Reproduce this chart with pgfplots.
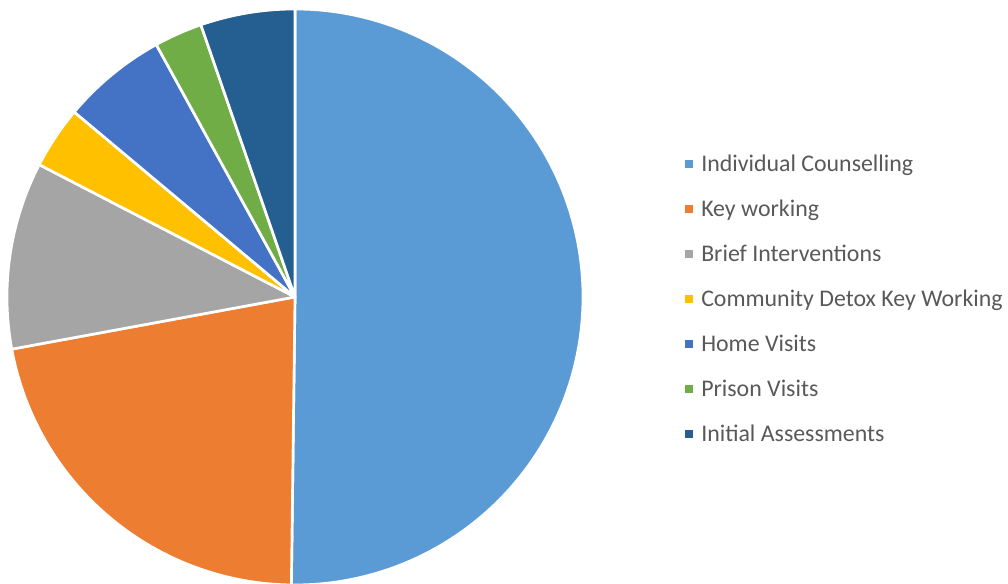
\documentclass[border=0pt]{standalone}
\usepackage{pgfplots}
\pgfplotsset{compat=1.18}
\usepackage{fontspec}
\setmainfont{Carlito}
\definecolor{c1}{HTML}{5B9BD5}
\definecolor{c2}{HTML}{ED7D31}
\definecolor{c3}{HTML}{A5A5A5}
\definecolor{c4}{HTML}{FFC000}
\definecolor{c5}{HTML}{4472C4}
\definecolor{c6}{HTML}{70AD47}
\definecolor{c7}{HTML}{255E91}
\definecolor{txt}{HTML}{595959}
% start (cumulative %), share (%), colour, name
\newcommand\slice[4]{%
  \addplot[fill=#3, draw=white, line width=2pt, line join=round,
    domain=90-3.6*(#1+#2):90-3.6*#1, samples=120]
    ({295+288*cos(x)},{287+288*sin(x)}) -- (axis cs:295,287) -- cycle;
  \addlegendentry{#4}%
}
\begin{document}
\begin{tikzpicture}
\useasboundingbox (0,0) rectangle (756pt,438pt);
\begin{axis}[
  scale only axis, width=756pt, height=438pt,
  xmin=0, xmax=1008, ymin=0, ymax=584,
  hide axis, clip=false,
  legend cell align=left,
  legend image code/.code={\fill[#1, draw=none] (0pt,-3pt) rectangle (6pt,3pt); \path (9pt,0pt);},
  legend style={at={(685/1008,285/584)}, anchor=west, draw=none, fill=none,
    inner sep=0pt, row sep=15.9pt, text=txt,
    font=\fontsize{17.9}{21}\selectfont},
]
\slice{0}{50.2}{c1}{Individual Counselling}
\slice{50.2}{21.9}{c2}{Key working}
\slice{72.1}{10.5}{c3}{Brief Interventions}
\slice{82.6}{3.5}{c4}{Community Detox Key Working}
\slice{86.1}{5.9}{c5}{Home Visits}
\slice{92.0}{2.7}{c6}{Prison Visits}
\slice{94.7}{5.3}{c7}{Initial Assessments}
\end{axis}
\end{tikzpicture}
\end{document}
